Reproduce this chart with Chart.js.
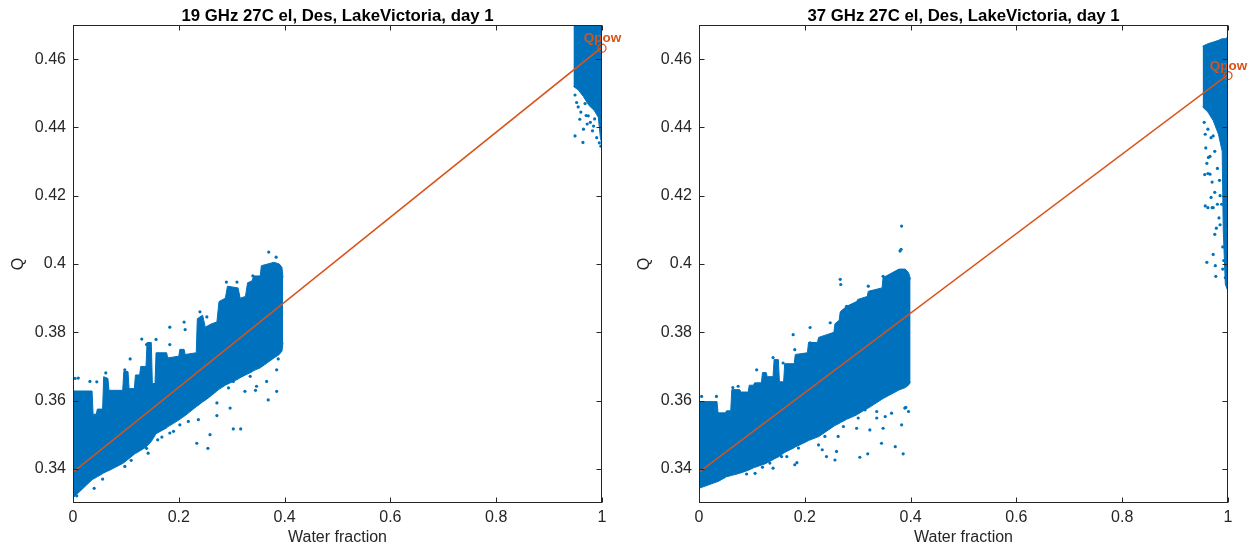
<!DOCTYPE html>
<html>
<head>
<meta charset="utf-8">
<script src="https://cdn.jsdelivr.net/npm/chart.js@4.4.1/dist/chart.umd.min.js"></script>
<style>
  html, body { margin: 0; padding: 0; background: #fff; }
  .panel { position: absolute; top: 0; width: 625px; height: 550px; }
  #panel-left { left: 0; }
  #panel-right { left: 626px; }
</style>
</head>
<body>
<div class="panel" id="panel-left"><canvas id="chart-left" width="625" height="550"></canvas></div>
<div class="panel" id="panel-right"><canvas id="chart-right" width="625" height="550"></canvas></div>
<script>
// --- Axes ---
const xTickValues = [0, 0.2, 0.4, 0.6, 0.8, 1];
const xTickLabels = ['0', '0.2', '0.4', '0.6', '0.8', '1'];
const yTickValues = [0.34, 0.36, 0.38, 0.40, 0.42, 0.44, 0.46];
const yTickLabels = ['0.34', '0.36', '0.38', '0.4', '0.42', '0.44', '0.46'];

// --- 19 GHz panel ---
// dense cloud at low water fraction: upper / lower edge of the point streaks
const low19X = [0.000, 0.036, 0.038, 0.044, 0.046, 0.056, 0.058, 0.066, 0.068, 0.094, 0.096, 0.104, 0.106, 0.116, 0.118,
  0.126, 0.128, 0.138, 0.140, 0.148, 0.150, 0.155, 0.157, 0.177, 0.179, 0.200, 0.202, 0.210, 0.212, 0.233, 0.235,
  0.245, 0.250, 0.262, 0.272, 0.276, 0.288, 0.292, 0.312, 0.316, 0.326, 0.330, 0.338, 0.342, 0.354, 0.356, 0.380,
  0.390, 0.395, 0.397];
const low19Upper = [0.3628, 0.3628, 0.3560, 0.3560, 0.3575, 0.3575, 0.3670, 0.3665, 0.3630, 0.3630, 0.3685, 0.3685, 0.3635, 0.3635, 0.3675,
  0.3675, 0.3700, 0.3700, 0.3770, 0.3770, 0.3650, 0.3650, 0.3740, 0.3740, 0.3725, 0.3730, 0.3750, 0.3750, 0.3735, 0.3740, 0.3840,
  0.3850, 0.3815, 0.3825, 0.3830, 0.3890, 0.3900, 0.3935, 0.3930, 0.3900, 0.3905, 0.3945, 0.3950, 0.3965, 0.3965, 0.3995, 0.4005,
  0.4000, 0.3990, 0.3960];
const low19Lower = [0.3315, 0.3368, 0.3370, 0.3375, 0.3377, 0.3386, 0.3388, 0.3394, 0.3395, 0.3416, 0.3418, 0.3428, 0.3430, 0.3443, 0.3445,
  0.3452, 0.3454, 0.3464, 0.3467, 0.3480, 0.3485, 0.3498, 0.3503, 0.3520, 0.3523, 0.3543, 0.3545, 0.3554, 0.3556, 0.3582, 0.3584,
  0.3596, 0.3601, 0.3615, 0.3628, 0.3633, 0.3645, 0.3648, 0.3663, 0.3667, 0.3675, 0.3678, 0.3684, 0.3688, 0.3696, 0.3698, 0.3725,
  0.3735, 0.3745, 0.3770];
// cloud at water fraction ~1
const high19X = [0.946, 0.955, 0.965, 0.975, 0.985, 0.993, 0.997, 1.0];
const high19Upper = [0.475, 0.475, 0.475, 0.475, 0.475, 0.475, 0.475, 0.475];
const high19Lower = [0.452, 0.451, 0.449, 0.4465, 0.445, 0.443, 0.437, 0.435];
const scatter19 = [
  [0.004, 0.3665], [0.010, 0.3666], [0.032, 0.3656], [0.045, 0.3655], [0.062, 0.3681], [0.098, 0.369], [0.108, 0.3722],
  [0.130, 0.378], [0.139, 0.3764], [0.157, 0.3779], [0.183, 0.3764], [0.183, 0.3815], [0.212, 0.3808], [0.210, 0.383],
  [0.240, 0.386], [0.253, 0.3845], [0.290, 0.3947], [0.310, 0.3947], [0.340, 0.3965], [0.370, 0.4035], [0.384, 0.402],
  [0.007, 0.3321], [0.040, 0.3343], [0.056, 0.337], [0.098, 0.3407], [0.139, 0.346], [0.142, 0.3446], [0.146, 0.349],
  [0.168, 0.3493], [0.183, 0.3505], [0.202, 0.3529], [0.218, 0.3539], [0.234, 0.3475], [0.255, 0.346], [0.259, 0.350],
  [0.237, 0.3544], [0.272, 0.3556], [0.272, 0.3593], [0.297, 0.3578], [0.303, 0.3517], [0.317, 0.3517], [0.281, 0.3651],
  [0.294, 0.3637], [0.303, 0.3656], [0.325, 0.3627], [0.335, 0.3671], [0.347, 0.3642], [0.366, 0.3656], [0.369, 0.3602],
  [0.385, 0.3627], [0.385, 0.369], [0.388, 0.3722], [0.110, 0.3425], [0.160, 0.3485], [0.190, 0.351], [0.345, 0.363],
  [0.949, 0.4495], [0.952, 0.4473], [0.955, 0.446], [0.958, 0.4424], [0.960, 0.4445], [0.965, 0.4395], [0.968, 0.447],
  [0.970, 0.4435], [0.972, 0.441], [0.974, 0.4434], [0.978, 0.4415], [0.982, 0.439], [0.984, 0.4404], [0.986, 0.4425],
  [0.990, 0.437], [0.949, 0.4375], [0.964, 0.4356], [0.995, 0.4355], [0.998, 0.4345]
];
const fit19 = [[0, 0.339], [1, 0.4635]];
const qpow19 = [1, 0.4632];

// --- 37 GHz panel ---
const low37X = [0.000, 0.034, 0.036, 0.050, 0.052, 0.060, 0.062, 0.077, 0.079, 0.093, 0.095, 0.103, 0.105, 0.118, 0.120,
  0.127, 0.129, 0.140, 0.142, 0.150, 0.152, 0.160, 0.162, 0.180, 0.182, 0.205, 0.207, 0.224, 0.226, 0.255, 0.257,
  0.265, 0.267, 0.279, 0.298, 0.300, 0.318, 0.320, 0.346, 0.348, 0.378, 0.390, 0.396, 0.400];
const low37Upper = [0.3597, 0.3597, 0.3564, 0.3564, 0.3570, 0.3570, 0.3632, 0.3632, 0.3625, 0.3625, 0.3645, 0.3645, 0.3652, 0.3652, 0.3682,
  0.3682, 0.3670, 0.3670, 0.3720, 0.3720, 0.3655, 0.3655, 0.3708, 0.3708, 0.3735, 0.3740, 0.3770, 0.3770, 0.3785, 0.3800, 0.3825,
  0.3835, 0.3860, 0.3876, 0.3890, 0.3896, 0.3905, 0.3920, 0.3930, 0.3960, 0.3985, 0.3985, 0.3975, 0.3955];
const low37Lower = [0.3343, 0.3362, 0.3363, 0.3375, 0.3377, 0.3380, 0.3381, 0.3387, 0.3388, 0.3396, 0.3397, 0.3403, 0.3404, 0.3411, 0.3412,
  0.3416, 0.3418, 0.3427, 0.3429, 0.3435, 0.3437, 0.3446, 0.3448, 0.3462, 0.3464, 0.3481, 0.3483, 0.3493, 0.3494, 0.3525, 0.3527,
  0.3533, 0.3535, 0.3545, 0.3558, 0.3560, 0.3577, 0.3578, 0.3604, 0.3606, 0.3631, 0.3638, 0.3645, 0.3655];
const high37X = [0.952, 0.962, 0.972, 0.982, 0.989, 0.991, 0.995, 1.0];
const high37Upper = [0.4638, 0.4645, 0.465, 0.4655, 0.466, 0.466, 0.466, 0.4665];
const high37Lower = [0.446, 0.4445, 0.442, 0.438, 0.433, 0.410, 0.394, 0.392];
const scatter37 = [
  [0.005, 0.3612], [0.033, 0.3612], [0.064, 0.3638], [0.074, 0.3642], [0.109, 0.369], [0.140, 0.3726], [0.159, 0.371],
  [0.178, 0.3793], [0.181, 0.3749], [0.210, 0.3814], [0.210, 0.3769], [0.248, 0.3828], [0.267, 0.3955], [0.268, 0.394],
  [0.279, 0.3876], [0.320, 0.3935], [0.348, 0.3964], [0.383, 0.4111], [0.382, 0.4043], [0.380, 0.4038],
  [0.106, 0.3387], [0.134, 0.3417], [0.140, 0.3402], [0.156, 0.3436], [0.166, 0.3436], [0.181, 0.3412], [0.185, 0.3418],
  [0.188, 0.3461], [0.207, 0.349], [0.219, 0.3524], [0.226, 0.347], [0.238, 0.3495], [0.241, 0.3436], [0.233, 0.3456],
  [0.257, 0.3426], [0.260, 0.3451], [0.263, 0.3495], [0.273, 0.3524], [0.276, 0.3573], [0.298, 0.3519], [0.301, 0.3549],
  [0.304, 0.3434], [0.314, 0.3573], [0.319, 0.3444], [0.323, 0.3514], [0.336, 0.3549], [0.336, 0.3568], [0.345, 0.3475],
  [0.348, 0.3519], [0.352, 0.3553], [0.364, 0.3563], [0.371, 0.3465], [0.383, 0.3529], [0.386, 0.3444], [0.389, 0.3578],
  [0.396, 0.3568], [0.391, 0.358], [0.12, 0.3405], [0.09, 0.3385],
  [0.955, 0.4415], [0.957, 0.438], [0.962, 0.4395], [0.968, 0.437], [0.972, 0.4375], [0.975, 0.433], [0.958, 0.434],
  [0.963, 0.4312], [0.966, 0.4315], [0.980, 0.428], [0.960, 0.4295], [0.962, 0.4265], [0.966, 0.4263], [0.956, 0.4262],
  [0.970, 0.424], [0.984, 0.4245], [0.975, 0.421], [0.985, 0.420], [0.968, 0.4195], [0.980, 0.4175], [0.988, 0.4175],
  [0.957, 0.417], [0.962, 0.4165], [0.970, 0.4165], [0.972, 0.4165], [0.983, 0.4135], [0.985, 0.4115], [0.978, 0.4105],
  [0.975, 0.4087], [0.990, 0.405], [0.972, 0.4028], [0.960, 0.4005], [0.992, 0.401], [0.976, 0.3995], [0.990, 0.3985],
  [0.977, 0.3964], [0.995, 0.396]
];
const fit37 = [[0, 0.339], [1, 0.4555]];
const qpow37 = [1, 0.4552];

// --- Styles ---
const blue = '#0072BD';
const orange = '#D95319';
const axisColor = '#262626';
const fontFamily = '"Liberation Sans", Arial, Helvetica, sans-serif';

const toPoints = (xs, ys) => xs.map((x, i) => ({ x: x, y: ys[i] }));
const pairsToPoints = pairs => pairs.map(p => ({ x: p[0], y: p[1] }));

/** Box round the axes with inward ticks, title centred over the axes **/
const boxTicks = {
    id: 'boxTicks',
    afterDraw(chart) {
        const { ctx, chartArea: a, scales: { x, y } } = chart;
        const L = Math.round(a.left) + 0.5, R = Math.round(a.right) - 0.5;
        const T = Math.round(a.top) + 0.5, B = Math.round(a.bottom) - 0.5;
        ctx.save();
        ctx.strokeStyle = axisColor;
        ctx.lineWidth = 1;
        ctx.strokeRect(L, T, R - L, B - T);
        ctx.beginPath();
        xTickValues.forEach(v => {
            const px = Math.round(x.getPixelForValue(v)) + 0.5;
            ctx.moveTo(px, B); ctx.lineTo(px, B - 5);
            ctx.moveTo(px, T); ctx.lineTo(px, T + 5);
        });
        yTickValues.forEach(v => {
            const py = Math.round(y.getPixelForValue(v)) + 0.5;
            ctx.moveTo(L, py); ctx.lineTo(L + 5, py);
            ctx.moveTo(R, py); ctx.lineTo(R - 5, py);
        });
        ctx.stroke();

        ctx.fillStyle = '#000';
        ctx.font = 'bold 16.8px ' + fontFamily;
        ctx.textAlign = 'center';
        ctx.textBaseline = 'alphabetic';
        ctx.fillText(chart.config.options.panelTitle, (a.left + a.right) / 2, 21);
        ctx.restore();
    }
};

/** Qpow label above the end point **/
const qpowLabel = {
    id: 'qpowLabel',
    afterDatasetsDraw(chart) {
        const pt = chart.config.options.qpowPoint;
        const { ctx, scales: { x, y } } = chart;
        ctx.save();
        ctx.fillStyle = orange;
        ctx.font = 'bold 13.5px ' + fontFamily;
        ctx.textAlign = 'center';
        ctx.textBaseline = 'alphabetic';
        ctx.fillText('Qpow', x.getPixelForValue(pt[0]) + 0.5, y.getPixelForValue(pt[1]) - 6);
        ctx.restore();
    }
};

function buildChart(canvasId, title, lowX, upper, lower, highX, highUpper, highLower, scatter, fit, qpow) {
    const ctx = document.getElementById(canvasId).getContext('2d');
    const band = { borderColor: blue, backgroundColor: blue, borderWidth: 1, pointRadius: 0, tension: 0, order: 2 };
    return new Chart(ctx, {
        type: 'line',
        data: {
            datasets: [
                { ...band, data: toPoints(lowX, lower), fill: false },
                { ...band, data: toPoints(lowX, upper), fill: '-1' },
                { ...band, data: toPoints(highX, highLower), fill: false },
                { ...band, data: toPoints(highX, highUpper), fill: '-1' },
                { data: pairsToPoints(scatter), showLine: false, pointRadius: 1.6, pointBorderWidth: 0,
                  pointBackgroundColor: blue, order: 1 },
                { data: pairsToPoints(fit), borderColor: orange, borderWidth: 1.5, pointRadius: 0, fill: false, order: 0 },
                { data: pairsToPoints([qpow]), showLine: false, pointRadius: 4, pointBorderColor: orange,
                  pointBackgroundColor: 'rgba(0,0,0,0)', pointBorderWidth: 1.3, clip: false, order: 0 }
            ]
        },
        options: {
            responsive: false,
            animation: false,
            qpowPoint: qpow,
            panelTitle: title,
            layout: { padding: { left: 0, right: 23, top: 25, bottom: 0 } },
            plugins: {
                legend: { display: false },
                tooltip: { enabled: false },
                title: { display: false }
            },
            scales: {
                x: {
                    type: 'linear',
                    min: 0, max: 1,
                    afterFit: s => { s.height = 47; },
                    afterBuildTicks: s => { s.ticks = xTickValues.map(v => ({ value: v })); },
                    grid: { display: false, drawTicks: false },
                    border: { display: false },
                    ticks: {
                        color: axisColor, padding: 5, maxRotation: 0,
                        font: { family: fontFamily, size: 16 },
                        callback: (v, i) => xTickLabels[i]
                    },
                    title: {
                        display: true, text: 'Water fraction', color: axisColor,
                        font: { family: fontFamily, size: 16 },
                        padding: { top: 0, bottom: 3 }
                    }
                },
                y: {
                    type: 'linear',
                    min: 0.33, max: 0.47,
                    afterFit: s => { s.width = 73; },
                    afterBuildTicks: s => { s.ticks = yTickValues.map(v => ({ value: v })); },
                    grid: { display: false, drawTicks: false },
                    border: { display: false },
                    ticks: {
                        color: axisColor, padding: 7,
                        font: { family: fontFamily, size: 16 },
                        callback: (v, i) => yTickLabels[i]
                    },
                    title: {
                        display: true, text: 'Q', color: axisColor,
                        font: { family: fontFamily, size: 16 },
                        padding: { top: 9, bottom: 0 }
                    }
                }
            }
        },
        plugins: [boxTicks, qpowLabel]
    });
}

// --- Initial Setup ---
buildChart('chart-left', '19 GHz 27C el, Des, LakeVictoria, day 1',
    low19X, low19Upper, low19Lower, high19X, high19Upper, high19Lower, scatter19, fit19, qpow19);
buildChart('chart-right', '37 GHz 27C el, Des, LakeVictoria, day 1',
    low37X, low37Upper, low37Lower, high37X, high37Upper, high37Lower, scatter37, fit37, qpow37);
</script>
</body>
</html>
